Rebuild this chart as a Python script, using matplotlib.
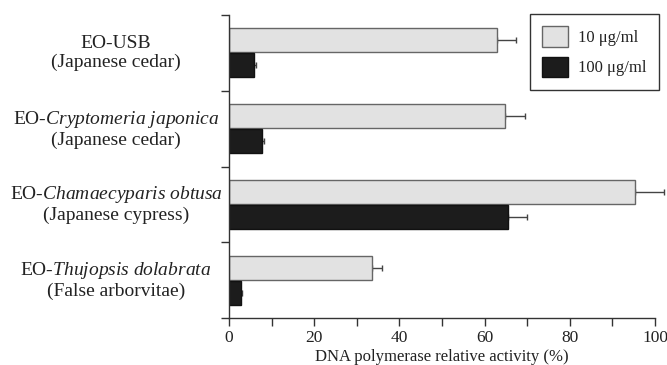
import numpy as np
import matplotlib
matplotlib.use('Agg')
import matplotlib.pyplot as plt
from matplotlib.ticker import MultipleLocator

plt.rcParams['font.family'] = ['Liberation Serif', 'DejaVu Serif']
plt.rcParams['mathtext.fontset'] = 'custom'
plt.rcParams['mathtext.rm'] = 'Liberation Serif'
plt.rcParams['mathtext.it'] = 'Liberation Serif:italic'

# data
groups = ['EO-USB\n(Japanese cedar)',
          'EO-$\\mathit{Cryptomeria\\ japonica}$\n(Japanese cedar)',
          'EO-$\\mathit{Chamaecyparis\\ obtusa}$\n(Japanese cypress)',
          'EO-$\\mathit{Thujopsis\\ dolabrata}$\n(False arborvitae)']
low_dose = [62.8, 64.9, 95.4, 33.5]      # 10 ug/ml
low_err = [4.6, 4.6, 6.7, 2.3]
high_dose = [5.9, 7.7, 65.6, 2.7]        # 100 ug/ml
high_err = [0.5, 0.6, 4.4, 0.4]
series_names = ['10 \u03bcg/ml', '100 \u03bcg/ml']

txt = '#222222'

fig = plt.figure(figsize=(6.67, 3.65), dpi=100)
ax = fig.add_axes([229/667, 1-318/365, (655-229)/667, (318-15)/365])

y = np.arange(len(groups))
h = 0.32
off = 0.165

ax.barh(y - off, low_dose, height=h, color='#e2e2e2', edgecolor='#666666',
        linewidth=1.0, label=series_names[0], zorder=2)
ax.barh(y + off, high_dose, height=h, color='#1c1c1c', edgecolor='#111111',
        linewidth=1.0, label=series_names[1], zorder=2)
for vals, errs, pos in [(low_dose, low_err, y - off), (high_dose, high_err, y + off)]:
    eb = ax.errorbar(vals, pos, xerr=[np.zeros(4), errs], fmt='none',
                     ecolor='#444444', elinewidth=1.0, capsize=2.5,
                     capthick=1.0, zorder=1)
    for art in eb.lines[1] + eb.lines[2]:
        art.set_clip_on(False)

ax.set_xlim(0, 100)
ax.set_ylim(len(groups) - 0.5, -0.5)
ax.xaxis.set_major_locator(MultipleLocator(20))
ax.xaxis.set_minor_locator(MultipleLocator(10))
ax.set_yticks(np.arange(-0.5, len(groups), 1.0))
ax.set_yticklabels([])
ax.tick_params(axis='both', which='both', direction='out', length=6,
               width=1.0, color='#333333', labelsize=12.5, labelcolor=txt)
ax.tick_params(axis='x', pad=3)

for s in ['top', 'right']:
    ax.spines[s].set_visible(False)
for s in ['left', 'bottom']:
    ax.spines[s].set_color('#333333')
    ax.spines[s].set_linewidth(1.0)

for i, g in enumerate(groups):
    ax.text(-0.265, i, g, transform=ax.get_yaxis_transform(), ha='center',
            va='center', multialignment='center', fontsize=14, color=txt,
            linespacing=1.12)

ax.set_xlabel('DNA polymerase relative activity (%)', fontsize=12,
              color=txt, labelpad=2)

leg = ax.legend(loc='upper right', bbox_to_anchor=(659/667, 1-14/365),
                bbox_transform=fig.transFigure, fontsize=12, frameon=True,
                fancybox=False, framealpha=1, edgecolor='#333333',
                handlelength=1.55, handleheight=1.5, borderpad=0.75,
                labelspacing=0.6, handletextpad=0.6, borderaxespad=0)
leg.get_frame().set_linewidth(1.0)
for t in leg.get_texts():
    t.set_color(txt)

fig.savefig('out.png', dpi=100)
